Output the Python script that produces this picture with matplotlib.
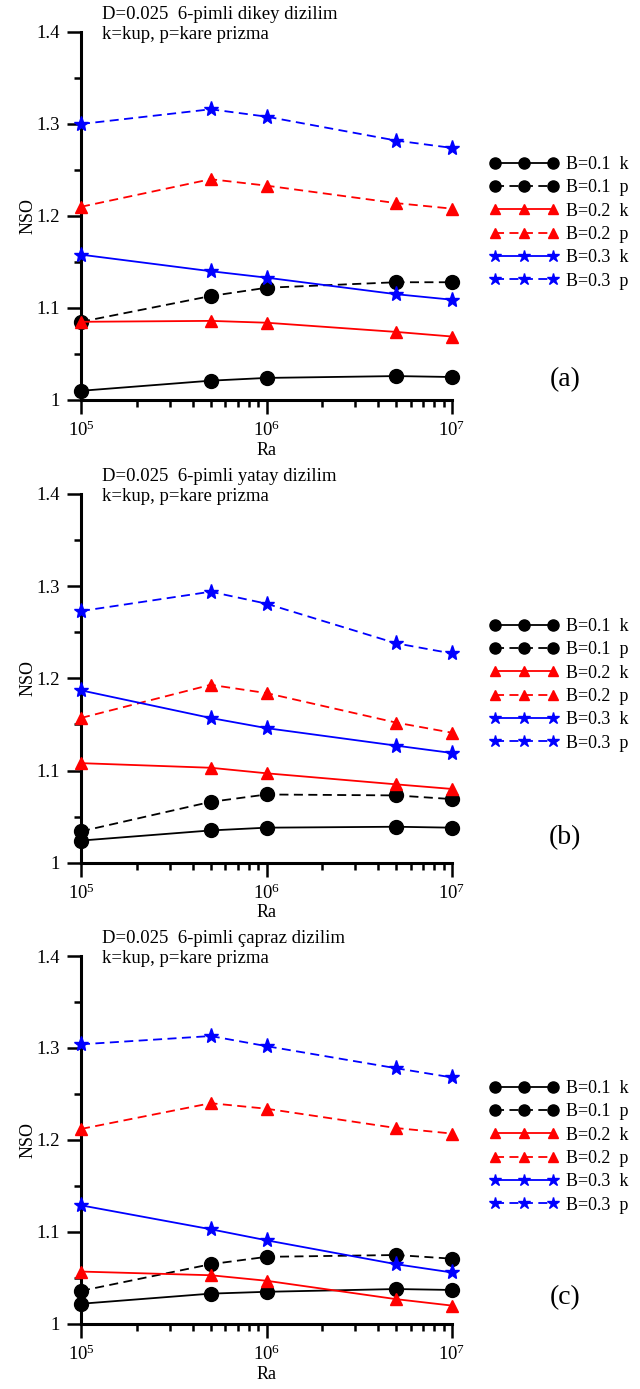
import matplotlib
matplotlib.use("Agg")
import matplotlib.pyplot as plt
import numpy as np
from matplotlib.ticker import LogLocator, FixedLocator, FixedFormatter

plt.rcParams['font.family'] = ['Liberation Serif', 'DejaVu Serif']
plt.rcParams['mathtext.fontset'] = 'custom'
plt.rcParams['mathtext.rm'] = 'Liberation Serif'
plt.rcParams['mathtext.it'] = 'Liberation Serif:italic'

#--------------------------------------------------------------------------
# Data
#--------------------------------------------------------------------------
Ra = [1e5, 5e5, 1e6, 5e6, 1e7]

series_labels = ['B=0.1  k', 'B=0.1  p', 'B=0.2  k', 'B=0.2  p', 'B=0.3  k', 'B=0.3  p']

# (a) dikey dizilim
nso_a = [
    [1.010, 1.021, 1.024, 1.026, 1.025],
    [1.085, 1.113, 1.122, 1.128, 1.128],
    [1.085, 1.086, 1.084, 1.074, 1.069],
    [1.210, 1.240, 1.233, 1.214, 1.208],
    [1.158, 1.140, 1.133, 1.115, 1.109],
    [1.300, 1.316, 1.308, 1.282, 1.274],
]
# (b) yatay dizilim
nso_b = [
    [1.024, 1.035, 1.038, 1.039, 1.038],
    [1.034, 1.066, 1.074, 1.073, 1.069],
    [1.108, 1.103, 1.097, 1.085, 1.080],
    [1.157, 1.193, 1.184, 1.152, 1.141],
    [1.187, 1.157, 1.146, 1.127, 1.119],
    [1.273, 1.294, 1.281, 1.238, 1.227],
]
# (c) capraz dizilim
nso_c = [
    [1.022, 1.033, 1.035, 1.038, 1.037],
    [1.036, 1.065, 1.073, 1.075, 1.071],
    [1.057, 1.053, 1.047, 1.027, 1.020],
    [1.212, 1.240, 1.234, 1.213, 1.207],
    [1.129, 1.103, 1.091, 1.065, 1.056],
    [1.304, 1.313, 1.302, 1.278, 1.268],
]

y_ticks = [1.0, 1.1, 1.2, 1.3, 1.4]
y_ticklabels = ['1', '1.1', '1.2', '1.3', '1.4']
y_minor = [1.05, 1.15, 1.25, 1.35]
x_ticks = [1e5, 1e6, 1e7]
x_ticklabels = [r'$10^5$', r'$10^6$', r'$10^7$']

titles = ['D=0.025  6-pimli dikey dizilim\nk=kup, p=kare prizma',
          'D=0.025  6-pimli yatay dizilim\nk=kup, p=kare prizma',
          'D=0.025  6-pimli çapraz dizilim\nk=kup, p=kare prizma']
panel_tags = ['(a)', '(b)', '(c)']

#--------------------------------------------------------------------------
# Styles
#--------------------------------------------------------------------------
colors = ['black', 'black', 'red', 'red', 'blue', 'blue']
markers = ['o', 'o', '^', '^', '*', '*']
msizes = [10, 10, 9, 9, 11, 11]
dash = (0, (5, 3))
lstyles = ['-', dash, '-', dash, '-', dash]

#--------------------------------------------------------------------------
# Plotting
#--------------------------------------------------------------------------
W, H = 640, 1389
fig = plt.figure(figsize=(W / 100, H / 100), dpi=100)

ax_px = [(32, 400), (494, 862.7), (956, 1324)]
tag_y = [380, 838, 1298]

for k, data in enumerate([nso_a, nso_b, nso_c]):
    top, bot = ax_px[k]
    ax = fig.add_axes([81 / W, 1 - bot / H, (452 - 81) / W, (bot - top) / H])
    for i in range(6):
        ax.plot(Ra, data[i], color=colors[i], marker=markers[i], markersize=msizes[i],
                linestyle=lstyles[i], linewidth=1.3, clip_on=False, zorder=3,
                label=series_labels[i])
    ax.set_xscale('log')
    ax.set_xlim(1e5, 1e7)
    ax.set_ylim(1.0, 1.4)
    ax.xaxis.set_major_locator(FixedLocator(x_ticks))
    ax.xaxis.set_major_formatter(FixedFormatter(x_ticklabels))
    ax.xaxis.set_minor_locator(LogLocator(base=10, subs=np.arange(2, 10)))
    ax.xaxis.set_minor_formatter(FixedFormatter([]))
    ax.yaxis.set_major_locator(FixedLocator(y_ticks))
    ax.yaxis.set_major_formatter(FixedFormatter(y_ticklabels))
    ax.yaxis.set_minor_locator(FixedLocator(y_minor))
    ax.spines['top'].set_visible(False)
    ax.spines['right'].set_visible(False)
    ax.spines['left'].set_linewidth(2.2)
    ax.spines['bottom'].set_linewidth(2.2)
    ax.tick_params(which='major', direction='out', length=10, width=1.8, labelsize=13.5, pad=5)
    ax.tick_params(which='minor', direction='out', length=5, width=1.8)
    ax.set_ylabel('NSO', fontsize=13, labelpad=0)
    ax.set_xlabel('Ra', fontsize=13, labelpad=1)
    fig.text(102 / W, 1 - (top - 26) / H, titles[k], fontsize=13.5, ha='left', va='top',
             linespacing=1.2)
    fig.text(565 / W, 1 - tag_y[k] / H, panel_tags[k], fontsize=20, ha='center', va='center')
    ax.legend(loc='upper left', bbox_to_anchor=(490 / W, 1 - (top + 124) / H),
              bbox_transform=fig.transFigure, frameon=False, fontsize=13,
              numpoints=3, handlelength=3.8, handletextpad=0.4, labelspacing=0.35,
              borderpad=0, borderaxespad=0, markerscale=0.8)

fig.savefig('out.png', dpi=100)
print("Completed Successfully ...")
